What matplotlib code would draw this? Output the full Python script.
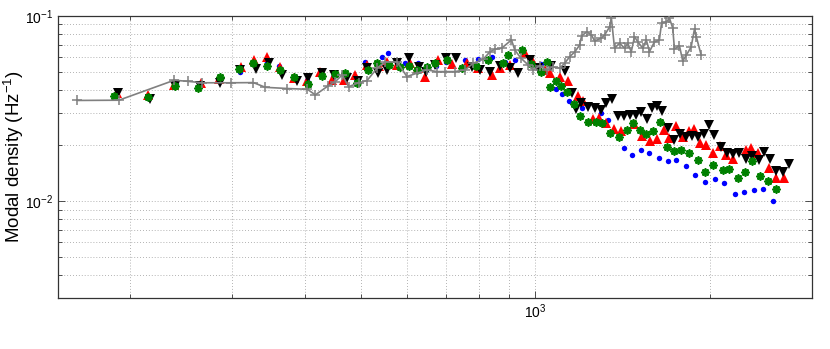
import matplotlib
matplotlib.use('Agg')
import matplotlib.pyplot as plt
from matplotlib.ticker import LogLocator, NullFormatter

plt.rcParams['font.family'] = ['Liberation Sans', 'DejaVu Sans']
plt.rcParams['mathtext.fontset'] = 'custom'
plt.rcParams['mathtext.rm'] = 'Liberation Sans'
plt.rcParams['mathtext.it'] = 'Liberation Sans:italic'
plt.rcParams['mathtext.default'] = 'regular'

# ---------------- data (frequency in Hz, modal density in 1/Hz) ----------------
gray_f = [162, 191, 238, 251, 266, 298, 326, 342, 373, 404, 417, 439, 451, 464, 476, 495,
          512, 533, 550, 577, 600, 624, 649, 676, 698, 726, 756, 781, 813, 834, 851, 874,
          909, 921, 943, 971, 991, 1017, 1046, 1071, 1101, 1123, 1146, 1169, 1192, 1201,
          1226, 1249, 1265, 1299, 1316, 1342, 1352, 1369, 1397, 1425, 1443, 1463, 1482,
          1502, 1532, 1553, 1573, 1604, 1636, 1650, 1681, 1703, 1725, 1737, 1772, 1795,
          1822, 1856, 1881, 1895, 1931]
gray_d = [0.0350, 0.0351, 0.0450, 0.0444, 0.0436, 0.0436, 0.0437, 0.0412, 0.0406, 0.0402,
          0.0375, 0.0420, 0.0441, 0.0481, 0.0415, 0.0436, 0.0448, 0.0523, 0.0565, 0.0565,
          0.0471, 0.0491, 0.0512, 0.0501, 0.0501, 0.0501, 0.0512, 0.0556, 0.0585, 0.0640,
          0.0662, 0.0670, 0.0743, 0.0656, 0.0594, 0.0545, 0.0512, 0.0538, 0.0512, 0.0531,
          0.0523, 0.0556, 0.0604, 0.0640, 0.0698, 0.0781, 0.0821, 0.0790, 0.0733, 0.0759,
          0.0790, 0.0872, 0.0972, 0.0670, 0.0713, 0.0670, 0.0713, 0.0640, 0.0774, 0.0724,
          0.0670, 0.0743, 0.0643, 0.0724, 0.0743, 0.0914, 0.0928, 0.0972, 0.0862, 0.0664,
          0.0690, 0.0572, 0.0617, 0.0681, 0.0851, 0.0771, 0.0617]

blue_f = [188.7, 214.7, 239.4, 262.2, 285.0, 308.9, 326.2, 344.8, 360.6, 384.4, 404.0, 426.1,
          447.9, 469.4, 490.5, 508.4, 542.6, 557.6, 595.7, 627.9, 648.1, 673.5, 702, 756,
          797, 840, 885, 921, 978, 1024, 1087, 1112, 1142, 1203, 1299, 1333, 1420, 1470,
          1522, 1573, 1631, 1691, 1747, 1819, 1885, 1962, 2038, 2118, 2209, 2292, 2378,
          2465, 2568]
blue_d = [0.0375, 0.0362, 0.0430, 0.0415, 0.0464, 0.0501, 0.0558, 0.0565, 0.0538, 0.0469,
          0.0452, 0.0487, 0.0469, 0.0475, 0.0458, 0.0568, 0.0604, 0.0630, 0.0556, 0.0556,
          0.0512, 0.0538, 0.0565, 0.0580, 0.0585, 0.0604, 0.0565, 0.0580, 0.0565, 0.0552,
          0.0405, 0.0378, 0.0346, 0.0318, 0.0301, 0.0276, 0.0194, 0.0177, 0.0188, 0.0181,
          0.0171, 0.0164, 0.0166, 0.0154, 0.0138, 0.0127, 0.0131, 0.0125, 0.0110, 0.0112,
          0.0115, 0.0116, 0.0100]

red_f = [189.5, 214.3, 237.5, 264.3, 284.3, 309.8, 326.6, 344.4, 363.0, 383.6, 403.5, 425.4,
         445.6, 466.5, 488.6, 511.3, 536.9, 554.8, 577.1, 607.3, 627.3, 644.8, 678.8, 718,
         761, 796, 840, 868, 903, 958, 989, 1038, 1058, 1101, 1138, 1185, 1208, 1256, 1289,
         1325, 1364, 1405, 1482, 1528, 1576, 1619, 1669, 1703, 1749, 1800, 1843, 1880, 1922,
         1972, 2022, 2083, 2132, 2188, 2304, 2357, 2416, 2531, 2605, 2681]
red_d = [0.0384, 0.0375, 0.0425, 0.0434, 0.0458, 0.0533, 0.0580, 0.0599, 0.0529, 0.0464,
         0.0443, 0.0501, 0.0452, 0.0452, 0.0481, 0.0545, 0.0538, 0.0565, 0.0545, 0.0556,
         0.0525, 0.0471, 0.0580, 0.0552, 0.0556, 0.0525, 0.0481, 0.0525, 0.0545, 0.0630,
         0.0565, 0.0512, 0.0491, 0.0471, 0.0443, 0.0370, 0.0346, 0.0277, 0.0281, 0.0266,
         0.0246, 0.0239, 0.0262, 0.0225, 0.0212, 0.0218, 0.0243, 0.0220, 0.0256, 0.0221,
         0.0238, 0.0245, 0.0206, 0.0201, 0.0181, 0.0198, 0.0178, 0.0170, 0.0188, 0.0194,
         0.0182, 0.0151, 0.0134, 0.0134]

black_f = [190.5, 216.4, 238.9, 263.2, 285.3, 309.2, 328.8, 346.6, 365.4, 387.9, 405.8, 428.0,
           448.3, 472.3, 494.5, 511.8, 535.4, 554.1, 577.1, 603.9, 630.2, 647.7, 670.8, 700.8,
           729, 776, 802, 834, 868, 903, 933, 978, 1010, 1065, 1123, 1155, 1175, 1200, 1233,
           1265, 1295, 1325, 1356, 1387, 1419, 1453, 1488, 1522, 1556, 1590, 1619, 1654,
           1691, 1734, 1779, 1819, 1863, 1911, 1951, 1995, 2035, 2086, 2137, 2188, 2247,
           2308, 2368, 2426, 2481, 2541, 2605, 2677, 2740]
black_d = [0.0384, 0.0356, 0.0420, 0.0420, 0.0434, 0.0512, 0.0516, 0.0556, 0.0481, 0.0443,
           0.0462, 0.0491, 0.0481, 0.0462, 0.0443, 0.0525, 0.0491, 0.0512, 0.0558, 0.0592,
           0.0533, 0.0501, 0.0545, 0.0592, 0.0592, 0.0533, 0.0512, 0.0501, 0.0538, 0.0525,
           0.0491, 0.0580, 0.0523, 0.0538, 0.0506, 0.0385, 0.0314, 0.0340, 0.0322, 0.0317,
           0.0309, 0.0340, 0.0356, 0.0287, 0.0289, 0.0293, 0.0293, 0.0305, 0.0278, 0.0318,
           0.0328, 0.0308, 0.0249, 0.0215, 0.0231, 0.0222, 0.0224, 0.0222, 0.0231, 0.0258,
           0.0229, 0.0197, 0.0181, 0.0180, 0.0181, 0.0170, 0.0176, 0.0167, 0.0184, 0.0168,
           0.0145, 0.0143, 0.0158]

green_f = [187.4, 214.6, 238.7, 261.5, 285.0, 307.7, 325.8, 344.4, 362.0, 382.6, 404.5, 428.0,
           451.4, 469.4, 491.8, 514.2, 532.5, 559.2, 584.0, 605.5, 623.9, 649.8, 670.8, 702.7,
           746, 789, 829, 880, 897, 946, 982, 1024, 1045, 1061, 1087, 1108, 1135, 1164, 1195,
           1232, 1270, 1301, 1342, 1391, 1438, 1472, 1512, 1553, 1594, 1637, 1685, 1736,
           1786, 1838, 1906, 1962, 2027, 2107, 2160, 2232, 2301, 2366, 2442, 2521, 2602]
green_d = [0.0371, 0.0365, 0.0420, 0.0408, 0.0471, 0.0516, 0.0556, 0.0538, 0.0508, 0.0471,
           0.0430, 0.0475, 0.0487, 0.0491, 0.0434, 0.0512, 0.0556, 0.0545, 0.0533, 0.0538,
           0.0512, 0.0531, 0.0556, 0.0580, 0.0523, 0.0538, 0.0580, 0.0556, 0.0617, 0.0656,
           0.0552, 0.0501, 0.0568, 0.0416, 0.0443, 0.0420, 0.0388, 0.0335, 0.0289, 0.0268,
           0.0268, 0.0264, 0.0234, 0.0221, 0.0243, 0.0264, 0.0241, 0.0231, 0.0238, 0.0268,
           0.0195, 0.0186, 0.0189, 0.0182, 0.0166, 0.0143, 0.0156, 0.0148, 0.0149, 0.0133,
           0.0144, 0.0164, 0.0136, 0.0128, 0.0116]

x_limits = (150, 3000)
y_limits = (3e-3, 0.1)
y_label = 'Modal density (Hz$^{-1}$)'

# ---------------- figure ----------------
fig = plt.figure(figsize=(8.3, 3.49), dpi=100)
ax = fig.add_axes([0.0699, 0.1461, 0.9084, 0.8080])
ax.set_xscale('log')
ax.set_yscale('log')

ax.plot(blue_f, blue_d, linestyle='none', marker='o', markersize=3.9,
        color='#0000ff', markeredgewidth=0, zorder=3)
ax.plot(red_f, red_d, linestyle='none', marker='^', markersize=6.8,
        color='#ff0000', markeredgewidth=0, zorder=4)
ax.plot(black_f, black_d, linestyle='none', marker='v', markersize=6.8,
        color='#000000', markeredgewidth=0, zorder=5)
ax.plot(green_f, green_d, linestyle='none', marker=(8, 1, 0), markersize=5.8,
        color='#008000', markeredgecolor='#008000', markeredgewidth=1.2, zorder=6)
ax.plot(gray_f, gray_d, linestyle='-', linewidth=1.2, marker='+', markersize=6.5,
        markeredgewidth=1.1, color='#808080', zorder=7)

ax.set_xlim(*x_limits)
ax.set_ylim(*y_limits)

for axis in (ax.xaxis, ax.yaxis):
    axis.set_major_locator(LogLocator(base=10, numticks=10))
    axis.set_minor_locator(LogLocator(base=10, subs=range(2, 10), numticks=30))
    axis.set_minor_formatter(NullFormatter())

ax.grid(True, which='both', linestyle=(0, (1, 2.5)), color='#9a9a9a', linewidth=0.6)
ax.set_axisbelow(True)
ax.tick_params(which='both', direction='in', top=True, right=True, colors='#333333',
               labelcolor='black', labelsize=10)
ax.tick_params(which='major', length=5, width=0.6)
ax.tick_params(which='minor', length=3, width=0.6)
for sp in ax.spines.values():
    sp.set_color('#333333')
    sp.set_linewidth(0.9)

ax.set_ylabel(y_label, fontsize=13.5)
ax.yaxis.set_label_coords(-0.043, 0.5)

fig.savefig('out.png', dpi=100)
